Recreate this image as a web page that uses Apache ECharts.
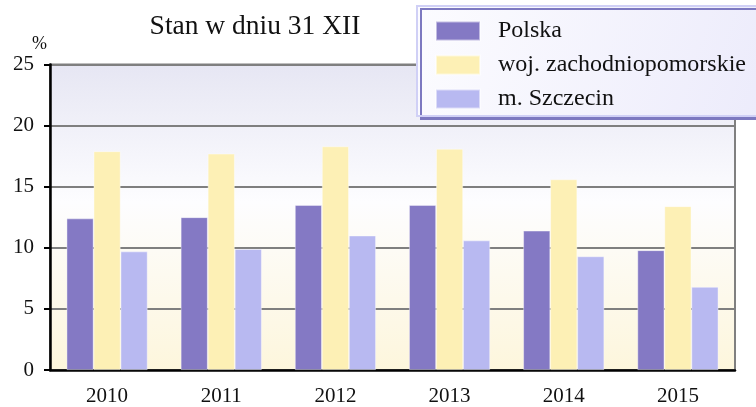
<!DOCTYPE html>
<html><head><meta charset="utf-8">
<script src="https://cdn.jsdelivr.net/npm/echarts@6/dist/echarts.min.js"></script>
<style>html,body{margin:0;padding:0;background:#fff}#c{width:756px;height:407px}</style>
</head><body><div id="c"></div>
<script>
var categories = ['2010','2011','2012','2013','2014','2015'];
var seriesNames = ['Polska','woj. zachodniopomorskie','m. Szczecin'];
var polska = [12.4, 12.5, 13.5, 13.5, 11.4, 9.8];
var woj = [17.9, 17.7, 18.3, 18.1, 15.6, 13.4];
var szczecin = [9.7, 9.9, 11.0, 10.6, 9.3, 6.8];
var yTicks = [0, 5, 10, 15, 20, 25];

var font = 'Liberation Serif, Times New Roman, serif';
var colors = ['#8479c4', '#fdf0b5', '#b8b9f1'];
var chart = echarts.init(document.getElementById('c'), null, {renderer:'canvas'});
function bar(name, data, i){
  return {name:name, type:'bar', data:data, barGap:'0%', barCategoryGap:'29%',
    itemStyle:{color:colors[i], borderColor:'rgba(255,255,255,0.5)', borderWidth:0.8}, z:3};
}
chart.setOption({
  animation:false,
  textStyle:{fontFamily:font},
  title:{text:'Stan w dniu 31 XII', left:250, top:8, textAlign:'center',
    textStyle:{fontFamily:font, fontSize:27.5, fontWeight:'normal', color:'#111'}},
  grid:{left:50, right:21, top:64.5, bottom:37, show:true,
    backgroundColor:{type:'linear', x:0, y:0, x2:0, y2:1, colorStops:[
      {offset:0, color:'#e6e6f3'},{offset:0.45, color:'#fdfdff'},{offset:1, color:'#fdf6dc'}]},
    borderColor:'#808080', borderWidth:2},
  graphic:[
    {type:'rect', left:416, top:5, z:10, shape:{width:350, height:110},
      style:{fill:{type:'linear', x:0, y:0, x2:1, y2:1, colorStops:[{offset:0,color:'#fcfcff'},{offset:1,color:'#ecebfb'}]},
        stroke:'#d0d0f6', lineWidth:2, shadowBlur:0, shadowOffsetX:4, shadowOffsetY:3, shadowColor:'#7d79c0'}},
    {type:'text', left:32, top:35, z:10, style:{text:'%', font:'18px ' + font, fill:'#111'}}
  ],
  legend:{orient:'vertical', left:430, top:14, z:11, itemWidth:44, itemHeight:19, itemGap:10,
    icon:'rect', textStyle:{fontFamily:font, fontSize:24, color:'#111', padding:[0,0,0,13]},
    data:seriesNames},
  xAxis:{type:'category', data:categories,
    axisLine:{lineStyle:{color:'#000', width:2.5}}, axisTick:{show:false},
    axisLabel:{fontFamily:font, fontSize:21, color:'#111', margin:16}},
  yAxis:{type:'value', min:yTicks[0], max:yTicks[yTicks.length-1], interval:5,
    axisLine:{show:true, lineStyle:{color:'#000', width:2.5}},
    axisTick:{show:true, length:6, lineStyle:{color:'#000', width:2}},
    splitLine:{lineStyle:{color:'#7f7f7f', width:2}},
    axisLabel:{fontFamily:font, fontSize:21, color:'#111', margin:16}},
  series:[bar(seriesNames[0], polska, 0), bar(seriesNames[1], woj, 1), bar(seriesNames[2], szczecin, 2)]
});
</script></body></html>
